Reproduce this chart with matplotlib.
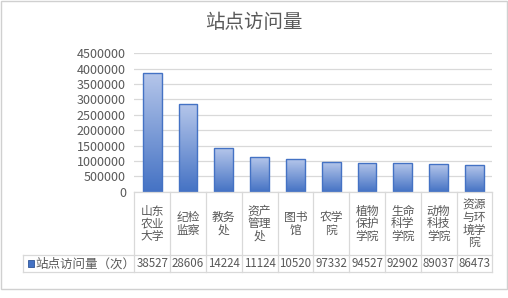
import numpy as np
import matplotlib
matplotlib.use('Agg')
import matplotlib.pyplot as plt
from matplotlib.patches import Rectangle

plt.rcParams['font.family'] = ['Noto Sans CJK SC', 'DejaVu Sans']

categories = ['山东\n农业\n大学', '纪检\n监察', '教务\n处', '资产\n管理\n处', '图书\n馆',
              '农学\n院', '植物\n保护\n学院', '生命\n科学\n学院', '动物\n科技\n学院', '资源\n与环\n境学\n院']
values = [3852700, 2860600, 1422400, 1112400, 1052000, 973320, 945270, 929020, 890370, 864730]
series_name = '站点访问量（次）'
title = '站点访问量'
yticks = np.arange(0, 4500001, 500000)

W, H = 508, 298
txt = '#595959'
grid = '#d9d9d9'
blue = '#4472c4'

fig = plt.figure(figsize=(W / 100, H / 100), dpi=100)

def px(x0, y0, x1, y1):
    # pixel box (top-left origin) -> figure fraction
    return [x0 / W, 1 - y1 / H, (x1 - x0) / W, (y1 - y0) / H]

# outer border
fig.add_artist(Rectangle((1 / W, 1 - 288.5 / H), 506 / W, 288 / H, transform=fig.transFigure,
                         fill=False, edgecolor='#d0d0d0', lw=1))

fig.text(254 / W, 1 - 22 / H, title, ha='center', va='center', fontsize=14, color=txt)

x0, x1, ytop, ybot = 134.3, 492.3, 53.3, 191.7
ax = fig.add_axes(px(x0, ytop, x1, ybot))
n = len(values)
xs = np.arange(n)
ax.set_xlim(-0.5, n - 0.5)
ax.set_ylim(0, 4500000)
ax.set_yticks(yticks)
ax.set_yticklabels([str(v) for v in yticks], fontsize=9, color=txt)
ax.tick_params(axis='y', length=0, pad=6)
ax.set_xticks([])
for s in ax.spines.values():
    s.set_visible(False)
ax.grid(axis='y', color=grid, lw=0.9)
ax.set_axisbelow(True)

grad = np.linspace(0, 1, 256).reshape(-1, 1)
cmap = matplotlib.colors.LinearSegmentedColormap.from_list('g', ['#4472c4', '#b5c6ea'])
bars = ax.bar(xs, values, width=0.53, facecolor='none', edgecolor=blue, lw=1, zorder=3)
for b in bars:
    im = ax.imshow(grad, extent=[b.get_x(), b.get_x() + b.get_width(), 0, b.get_height()],
                   origin='lower', aspect='auto', cmap=cmap, zorder=2)
    im.set_clip_path(b)
ax.set_xlim(-0.5, n - 0.5)
ax.set_ylim(0, 4500000)

# data table under the chart
cw = (x1 - x0) / n
leg_left = 23.3
row1, row2 = 255.0, 272.3
tab = fig.add_axes(px(leg_left, ybot, x1, row2))
tab.set_xlim(-0.5 - (x0 - leg_left) / cw, n - 0.5)
tab.set_ylim(row2, ybot)
tab.axis('off')
lk = dict(color=grid, lw=0.9, clip_on=False)
tab.plot([-0.5, n - 0.5], [ybot, ybot], **lk)
for i in range(n + 1):
    tab.plot([i - 0.5, i - 0.5], [ybot, row2], **lk)
L = -0.5 - (x0 - leg_left) / cw
tab.plot([L, n - 0.5], [row1, row1], **lk)
tab.plot([L, n - 0.5], [row2, row2], **lk)
tab.plot([L, L], [row1, row2], **lk)
for i, c in enumerate(categories):
    tab.text(i, (ybot + row1) / 2 + 0.5, c, ha='center', va='center', fontsize=8.5,
             color=txt, linespacing=0.95)
    tab.text(i, (row1 + row2) / 2, str(values[i])[:5], ha='center', va='center',
             fontsize=8.3, color=txt)
tab.add_patch(Rectangle((L + 4.7 / cw, (row1 + row2) / 2 - 3.2), 6.5 / cw, 6.4,
                        facecolor=blue, edgecolor='#2f5597', lw=0.6, clip_on=False))
tab.text(L + 12.5 / cw, (row1 + row2) / 2, series_name, ha='left', va='center',
         fontsize=9, color=txt)

fig.savefig('out.png', dpi=100)
